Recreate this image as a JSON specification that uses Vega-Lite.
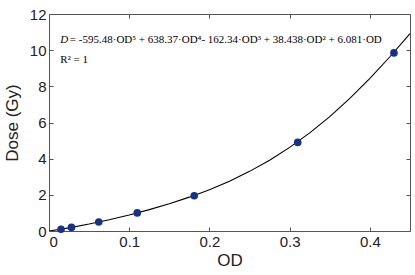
{
  "$schema": "https://vega.github.io/schema/vega-lite/v6.json",
  "width": 361,
  "height": 217,
  "autosize": {"type": "none"},
  "padding": {"left": 49, "top": 14, "right": 5, "bottom": 44},
  "background": "white",
  "config": {
    "view": {"stroke": null},
    "axis": {
      "grid": false,
      "domainColor": "#555555",
      "tickColor": "#555555",
      "tickSize": -4,
      "labelFont": "Liberation Sans",
      "labelFontSize": 15,
      "labelColor": "#222222",
      "titleFont": "Liberation Sans",
      "titleFontSize": 17,
      "titleFontWeight": "normal",
      "titleColor": "#222222"
    }
  },
  "datasets": {
    "curve": [
      {"OD": 0, "Dose": 0},
      {"OD": 0.025, "Dose": 0.1738},
      {"OD": 0.05, "Dose": 0.3837},
      {"OD": 0.075, "Dose": 0.6226},
      {"OD": 0.1, "Dose": 0.888},
      {"OD": 0.125, "Dose": 1.1813},
      {"OD": 0.15, "Dose": 1.5071},
      {"OD": 0.175, "Dose": 1.8723},
      {"OD": 0.2, "Dose": 2.2858},
      {"OD": 0.225, "Dose": 2.7577},
      {"OD": 0.25, "Dose": 3.2982},
      {"OD": 0.275, "Dose": 3.9174},
      {"OD": 0.3, "Dose": 4.6243},
      {"OD": 0.325, "Dose": 5.4264},
      {"OD": 0.35, "Dose": 6.3286},
      {"OD": 0.375, "Dose": 7.3329},
      {"OD": 0.4, "Dose": 8.4373},
      {"OD": 0.425, "Dose": 9.6355},
      {"OD": 0.45, "Dose": 10.916}
    ],
    "points": [
      {"OD": 0.015, "Dose": 0.1},
      {"OD": 0.028, "Dose": 0.2},
      {"OD": 0.062, "Dose": 0.5},
      {"OD": 0.11, "Dose": 1.0},
      {"OD": 0.181, "Dose": 1.95},
      {"OD": 0.31, "Dose": 4.9},
      {"OD": 0.43, "Dose": 9.85}
    ],
    "eqD": [{"OD": 0.014, "Dose": 10.55, "t": "D"}],
    "eqRest": [{"OD": 0.026, "Dose": 10.55, "t": "= -595.48·OD⁵ + 638.37·OD⁴- 162.34·OD³ + 38.438·OD² + 6.081·OD"}],
    "eqR": [{"OD": 0.014, "Dose": 9.45, "t": "R² = 1"}]
  },
  "layer": [
    {
      "data": {"name": "curve"},
      "mark": {"type": "line", "color": "black", "strokeWidth": 1.1, "clip": true},
      "encoding": {
        "x": {"field": "OD", "type": "quantitative", "scale": {"domain": [0, 0.45], "nice": false},
              "axis": {"orient": "bottom", "title": "OD", "values": [0, 0.1, 0.2, 0.3, 0.4], "format": ".1~f", "labelPadding": 7, "titlePadding": 3}},
        "y": {"field": "Dose", "type": "quantitative", "scale": {"domain": [0, 12], "nice": false},
              "axis": {"orient": "left", "title": "Dose (Gy)", "values": [0, 2, 4, 6, 8, 10, 12], "labelPadding": 7, "titlePadding": 8}}
      }
    },
    {
      "data": {"name": "curve"},
      "mark": {"type": "line", "opacity": 0},
      "encoding": {
        "x": {"field": "OD", "type": "quantitative", "scale": {"domain": [0, 0.45], "nice": false},
              "axis": {"orient": "top", "title": null, "values": [0, 0.1, 0.2, 0.3, 0.4], "labels": false}},
        "y": {"field": "Dose", "type": "quantitative", "scale": {"domain": [0, 12], "nice": false},
              "axis": {"orient": "right", "title": null, "values": [0, 2, 4, 6, 8, 10, 12], "labels": false}}
      }
    },
    {
      "data": {"name": "points"},
      "mark": {"type": "circle", "color": "#15308f", "opacity": 1, "size": 58},
      "encoding": {
        "x": {"field": "OD", "type": "quantitative", "axis": null},
        "y": {"field": "Dose", "type": "quantitative", "axis": null}
      }
    },
    {
      "data": {"name": "eqD"},
      "mark": {"type": "text", "font": "Liberation Serif", "fontSize": 11, "fontStyle": "italic", "align": "left", "baseline": "middle", "color": "black"},
      "encoding": {
        "x": {"field": "OD", "type": "quantitative", "axis": null},
        "y": {"field": "Dose", "type": "quantitative", "axis": null},
        "text": {"field": "t"}
      }
    },
    {
      "data": {"name": "eqRest"},
      "mark": {"type": "text", "font": "Liberation Serif", "fontSize": 11, "align": "left", "baseline": "middle", "color": "black"},
      "encoding": {
        "x": {"field": "OD", "type": "quantitative", "axis": null},
        "y": {"field": "Dose", "type": "quantitative", "axis": null},
        "text": {"field": "t"}
      }
    },
    {
      "data": {"name": "eqR"},
      "mark": {"type": "text", "font": "Liberation Serif", "fontSize": 11, "align": "left", "baseline": "middle", "color": "black"},
      "encoding": {
        "x": {"field": "OD", "type": "quantitative", "axis": null},
        "y": {"field": "Dose", "type": "quantitative", "axis": null},
        "text": {"field": "t"}
      }
    }
  ],
  "resolve": {"axis": {"x": "independent", "y": "independent"}}
}
